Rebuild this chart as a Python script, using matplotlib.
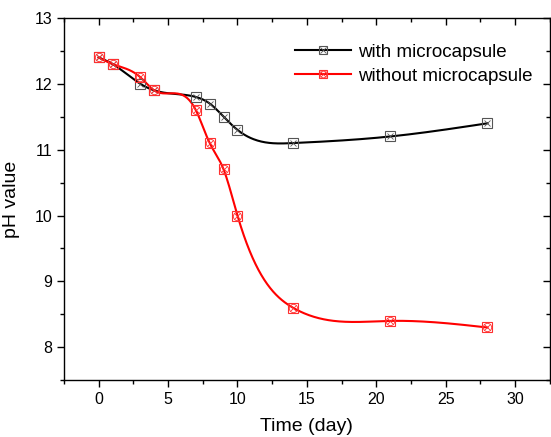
import numpy as np
import matplotlib
matplotlib.use("Agg")
import matplotlib.pyplot as plt
from matplotlib.legend_handler import HandlerTuple

days = [0, 1, 3, 4, 7, 8, 9, 10, 14, 21, 28]
ph_with = [12.4, 12.3, 12.0, 11.9, 11.8, 11.7, 11.5, 11.3, 11.1, 11.2, 11.4]
ph_without = [12.4, 12.3, 12.1, 11.9, 11.6, 11.1, 10.7, 10.0, 8.6, 8.4, 8.3]
labels = ["with microcapsule", "without microcapsule"]


def natural_spline(x, y, n=400):
    x = np.asarray(x, float); y = np.asarray(y, float)
    m = len(x)
    h = np.diff(x)
    A = np.zeros((m, m)); b = np.zeros(m)
    A[0, 0] = 1; A[-1, -1] = 1
    for i in range(1, m - 1):
        A[i, i - 1] = h[i - 1]
        A[i, i] = 2 * (h[i - 1] + h[i])
        A[i, i + 1] = h[i]
        b[i] = 3 * ((y[i + 1] - y[i]) / h[i] - (y[i] - y[i - 1]) / h[i - 1])
    c = np.linalg.solve(A, b)
    bb = (y[1:] - y[:-1]) / h - h * (2 * c[:-1] + c[1:]) / 3
    d = (c[1:] - c[:-1]) / (3 * h)
    xs = np.linspace(x[0], x[-1], n)
    idx = np.clip(np.searchsorted(x, xs) - 1, 0, m - 2)
    dx = xs - x[idx]
    ys = y[idx] + bb[idx] * dx + c[idx] * dx ** 2 + d[idx] * dx ** 3
    return xs, ys


plt.rcParams['font.family'] = ['Liberation Sans', 'DejaVu Sans']
fig = plt.figure(figsize=(5.51, 4.37), dpi=100)
ax = fig.add_axes([0.116, 0.130, 0.882, 0.829])

handles = []
for ys, col, mcol, circ in [(ph_with, 'black', '#555555', False), (ph_without, 'red', '#ff3030', True)]:
    sx, sy = natural_spline(days, ys)
    ln, = ax.plot(sx, sy, color=col, lw=1.5, zorder=2)
    m1, = ax.plot(days, ys, ls='none', marker='s', ms=7, mfc='none', mec=mcol, mew=0.8, zorder=3)
    m2, = ax.plot(days, ys, ls='none', marker='x', ms=5, mec=mcol, mew=0.6, zorder=3)
    h = [ln, m1, m2]
    if circ:
        m3, = ax.plot(days, ys, ls='none', marker='o', ms=6, mfc='none', mec=mcol, mew=0.6, zorder=3)
        h.append(m3)
    handles.append(tuple(h))

ax.set_xlim(-2.5, 32.5)
ax.set_ylim(7.5, 13)
ax.set_xticks([0, 5, 10, 15, 20, 25, 30])
ax.set_xticks(np.arange(-2.5, 33, 2.5), minor=True)
ax.set_yticks([8, 9, 10, 11, 12, 13])
ax.set_yticks(np.arange(7.5, 13.01, 0.5), minor=True)
ax.tick_params(axis='both', which='major', direction='out', length=5, width=1, labelsize=11.5)
ax.tick_params(axis='both', which='minor', direction='out', length=3, width=1)
ax.tick_params(top=True, right=True, which='both')
for t in ax.xaxis.get_major_ticks() + ax.xaxis.get_minor_ticks():
    t.tick2line.set_marker(3)
for t in ax.yaxis.get_major_ticks() + ax.yaxis.get_minor_ticks():
    t.tick2line.set_marker(0)
for s in ax.spines.values():
    s.set_linewidth(1)

ax.set_xlabel("Time (day)", fontsize=14, labelpad=8)
ax.set_ylabel("pH value", fontsize=14, labelpad=10)

ax.legend(handles, labels, handler_map={tuple: HandlerTuple(ndivide=1)}, loc='upper right',
          bbox_to_anchor=(1.0, 0.975), frameon=False, fontsize=13.5, handlelength=3.0,
          handletextpad=0.4, labelspacing=0.35, markerscale=0.8)

fig.savefig("out.png", dpi=100)
